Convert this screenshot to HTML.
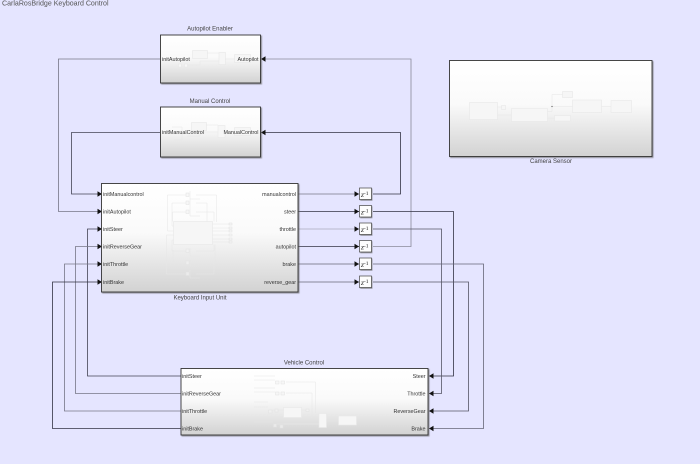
<!DOCTYPE html>
<html><head><meta charset="utf-8"><style>
html,body{margin:0;padding:0;background:#e5e5ff;width:700px;height:464px;overflow:hidden}
svg{display:block}
text{font-family:"Liberation Sans",sans-serif;font-size:5.4px;fill:#333}
.t{font-size:6px;text-anchor:middle;fill:#444}
.r{text-anchor:end}
.b{fill:url(#g);stroke:#333;stroke-width:.9;filter:url(#s)}
.d{fill:#fdfdfd;stroke:#444;stroke-width:.7;filter:url(#s)}
.w{fill:none;stroke-width:.8}
.i{fill:#f6f6f6;stroke:#e8e8e8;stroke-width:.6}
.l{fill:none;stroke:#e6e6e6;stroke-width:.5}
.z{font-family:"Liberation Serif",serif;font-size:7.5px;font-style:italic;fill:#222}
</style></head><body>
<svg width="700" height="464" viewBox="0 0 700 464" xmlns="http://www.w3.org/2000/svg">
<defs>
<linearGradient id="g" x1="0" y1="0" x2="0" y2="1"><stop offset="0" stop-color="#fff"/><stop offset=".45" stop-color="#fafafa"/><stop offset="1" stop-color="#d2d2d2"/></linearGradient>
<filter id="s" x="-5%" y="-5%" width="110%" height="115%"><feDropShadow dx="1" dy="1" stdDeviation=".5" flood-color="#666" flood-opacity=".7"/></filter>
<marker id="a" markerUnits="userSpaceOnUse" markerWidth="6" markerHeight="6" refX="4.500" refY="3" orient="auto"><path d="M0 .2L4.500 3L0 5.800z" fill="#111"/></marker>
</defs>
<rect width="700" height="464" fill="#e5e5ff"/>
<text x="2" y="5.500" style="font-size:7.050px;fill:#555">CarlaRosBridge Keyboard Control</text>

<!-- wires -->
<path class="w" stroke="#777788" d="M298 194H359" marker-end="url(#a)"/>
<path class="w" stroke="#333344" d="M298 211.500H359" marker-end="url(#a)"/>
<path class="w" stroke="#aaaabb" d="M298 229H359" marker-end="url(#a)"/>
<path class="w" stroke="#333344" d="M298 246.500H359" marker-end="url(#a)"/>
<path class="w" stroke="#666677" d="M298 264H359" marker-end="url(#a)"/>
<path class="w" stroke="#666677" d="M298 282H359" marker-end="url(#a)"/>
<path class="w" stroke="#333344" d="M373 194H400.500V132.500H261" marker-end="url(#a)"/>
<path class="w" stroke="#8a8a9a" d="M373 246.500H411V59H261" marker-end="url(#a)"/>
<path class="w" stroke="#333344" d="M373 211.500H453.500V376H429" marker-end="url(#a)"/>
<path class="w" stroke="#555566" d="M373 229H441.500V393.500H429" marker-end="url(#a)"/>
<path class="w" stroke="#666677" d="M373 264H483.500V428.500H429" marker-end="url(#a)"/>
<path class="w" stroke="#555566" d="M373 282H468.500V411H429" marker-end="url(#a)"/>
<path class="w" stroke="#777788" d="M160 59H58.500V211.500H102" marker-end="url(#a)"/>
<path class="w" stroke="#444455" d="M160 132.500H71.500V194H102" marker-end="url(#a)"/>
<path class="w" stroke="#444455" d="M181 376H87.500V229H102" marker-end="url(#a)"/>
<path class="w" stroke="#777788" d="M181 393.500H75.500V246.500H102" marker-end="url(#a)"/>
<path class="w" stroke="#777788" d="M181 411H64.500V264H102" marker-end="url(#a)"/>
<path class="w" stroke="#333344" d="M181 428.500H52.500V282H102" marker-end="url(#a)"/>

<!-- Autopilot Enabler -->
<text class="t" x="210" y="30.500">Autopilot Enabler</text>
<rect class="b" x="160.500" y="35" width="100" height="48"/>
<rect class="i" x="192.500" y="50.500" width="15" height="8"/><rect class="i" x="219" y="52.500" width="6.500" height="12"/><rect class="i" x="234.500" y="54.500" width="16" height="8"/>
<path class="l" d="M207 53H219M225 59H235M188 65H200V61H219"/><rect class="i" x="178.500" y="64" width="3" height="3"/><rect class="i" x="184.500" y="64" width="3" height="3"/>
<text x="162" y="61">initAutopilot</text><text class="r" x="258.500" y="61">Autopilot</text>

<!-- Manual Control -->
<text class="t" x="210" y="103">Manual Control</text>
<rect class="b" x="160.500" y="107" width="100" height="50"/>
<rect class="i" x="191.500" y="122.500" width="15" height="8"/><rect class="i" x="218" y="125.500" width="7" height="12"/><rect class="i" x="234.500" y="127.500" width="16" height="8"/>
<path class="l" d="M206 125H218M225 132H235M172 127H182V140H174M187 136H200V132H218"/>
<text x="162" y="134">initManualControl</text><text class="r" x="258.500" y="134">ManualControl</text>

<!-- Camera Sensor -->
<rect class="b" x="449.500" y="60.500" width="202.500" height="96"/>
<rect class="i" x="469.500" y="102.500" width="28" height="17"/><rect class="i" x="501.500" y="105.500" width="4" height="4"/>
<rect class="i" x="511.500" y="108.500" width="36" height="13"/><rect class="i" x="562.500" y="91.500" width="10" height="6"/>
<rect class="i" x="572.500" y="100" width="29" height="12.500"/><rect class="i" x="611" y="100.500" width="20.500" height="12"/><rect class="i" x="554.500" y="115.500" width="16" height="5.500"/>
<path class="l" d="M497.500 107H501.500M497.500 115H511.500M547.500 111.500H552V94.500H562.500M552 106.500H572.500M601.500 106.500H611M547.500 118H554.500"/>
<circle cx="552" cy="106.500" r=".6" fill="#555"/>
<text class="t" x="551" y="163">Camera Sensor</text>

<!-- Keyboard Input Unit -->
<rect class="b" x="101.500" y="183.500" width="196.500" height="108.500"/>
<rect class="i" x="173.500" y="221.500" width="39" height="23"/>
<path class="l" d="M186 195H167.500V231H173.500M186 203H172V226H173.500M186 212H172.500V221.500M196 195H216.500V222M196 203H207V221.500M196 212H214V221.500M173.500 235H166.500V274H186M173.500 240H172V251H186M173 250V263H186M196 251H214V244.500M196 263H215V244.500M196 274H214V262M212.500 224H230M212.500 228H230M212.500 231H230M212.500 235H230M212.500 239H230M212.500 242H230M190 191V199H200M190 199V207M190 207V216H200M190 248V256H200M190 260V266H200M190 270V278H200"/>
<g fill="#f4f4f4" fill-opacity=".6" stroke="#e2e2e2" stroke-width=".5">
<rect x="186" y="193" width="3" height="3.500"/><rect x="186" y="201" width="3" height="3.500"/><rect x="186" y="210" width="3" height="3.500"/><rect x="186" y="249" width="3" height="3.500"/><rect x="186" y="261" width="3" height="3.500"/><rect x="186" y="272" width="3" height="3.500"/>
<rect x="229" y="223" width="3" height="2"/><rect x="229" y="227" width="3" height="2"/><rect x="229" y="230" width="3" height="2"/><rect x="229" y="234" width="3" height="2"/><rect x="229" y="238" width="3" height="2"/><rect x="229" y="241" width="3" height="2"/>
</g>
<text x="103" y="196">initManualcontrol</text><text x="103" y="213.500">initAutopilot</text><text x="103" y="231">initSteer</text><text x="103" y="248.500">initReverseGear</text><text x="103" y="266">initThrottle</text><text x="103" y="284">initBrake</text>
<text class="r" x="296" y="196">manualcontrol</text><text class="r" x="296" y="213.500">steer</text><text class="r" x="296" y="231">throttle</text><text class="r" x="296" y="248.500">autopilot</text><text class="r" x="296" y="266">brake</text><text class="r" x="296" y="284">reverse_gear</text>
<text class="t" x="200" y="299.500">Keyboard Input Unit</text>

<!-- Unit delays -->
<rect class="d" x="359.500" y="188" width="12" height="11.500"/><rect class="d" x="359.500" y="205.500" width="12" height="11.500"/><rect class="d" x="359.500" y="223" width="12" height="11.500"/><rect class="d" x="359.500" y="240.500" width="12" height="11.500"/><rect class="d" x="359.500" y="258" width="12" height="11.500"/><rect class="d" x="359.500" y="276" width="12" height="11.500"/>
<text class="z" x="361" y="197">z<tspan dy="-2" font-size="5.500" font-style="normal">-1</tspan></text>
<text class="z" x="361" y="214.500">z<tspan dy="-2" font-size="5.500" font-style="normal">-1</tspan></text>
<text class="z" x="361" y="232">z<tspan dy="-2" font-size="5.500" font-style="normal">-1</tspan></text>
<text class="z" x="361" y="249.500">z<tspan dy="-2" font-size="5.500" font-style="normal">-1</tspan></text>
<text class="z" x="361" y="267">z<tspan dy="-2" font-size="5.500" font-style="normal">-1</tspan></text>
<text class="z" x="361" y="285">z<tspan dy="-2" font-size="5.500" font-style="normal">-1</tspan></text>

<!-- Vehicle Control -->
<text class="t" x="304" y="364.500">Vehicle Control</text>
<rect class="b" x="181" y="368.500" width="247" height="66.500"/>
<rect class="i" x="283.500" y="407.500" width="18" height="10"/><rect class="i" x="319" y="413.500" width="7.500" height="14"/><rect class="i" x="338.500" y="416" width="18" height="9"/>
<path class="l" d="M254 376H275M254 380H275M254 388H275M254 392H275M254 402H268M254 407H268M254 417H273M254 422H273M286 382H315.500V413M286 393H312V418M272 410H283.500M301.500 410H306M284 424H319M275 424H319M326.500 421H338.500"/>
<g fill="#f4f4f4" fill-opacity=".6" stroke="#e2e2e2" stroke-width=".5">
<rect x="275.500" y="381" width="3.500" height="3"/><rect x="281" y="381" width="3.500" height="3"/><rect x="275.500" y="392" width="3.500" height="3"/><rect x="281" y="392" width="3.500" height="3"/><rect x="268.500" y="410" width="3.500" height="3"/><rect x="275" y="409" width="3" height="3"/><rect x="273.500" y="424" width="3" height="3"/><rect x="280" y="425" width="3" height="3"/><rect x="306" y="409" width="3" height="2.500"/>
</g>
<text x="182" y="378">initSteer</text><text x="182" y="395.500">initReverseGear</text><text x="182" y="413">initThrottle</text><text x="182" y="430.500">initBrake</text>
<text class="r" x="425.500" y="378">Steer</text><text class="r" x="425.500" y="395.500">Throttle</text><text class="r" x="425.500" y="413">ReverseGear</text><text class="r" x="425.500" y="430.500">Brake</text>
</svg>
</body></html>
